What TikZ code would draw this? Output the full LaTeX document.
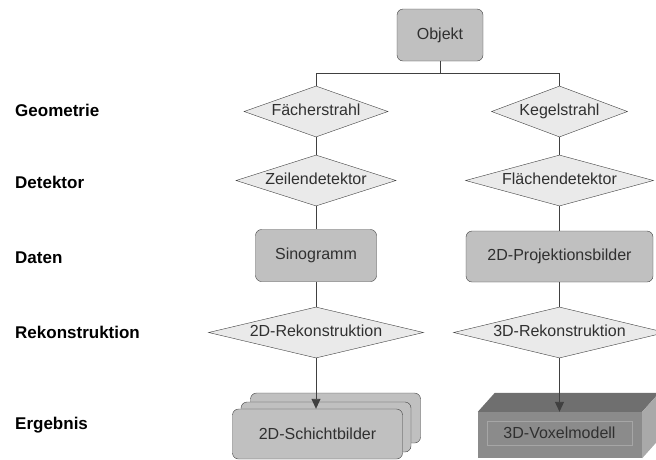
\documentclass[tikz,border=0pt]{standalone}
\usepackage{fontspec}
\setmainfont{Liberation Sans}
\usepackage{xcolor}
\usepackage{tikz}
\usetikzlibrary{shapes.geometric}
\usetikzlibrary{arrows.meta}
\usetikzlibrary{positioning}
\definecolor{linegray}{HTML}{404040}
\definecolor{boxfill}{HTML}{C0C0C0}
\definecolor{rhombfill}{HTML}{EAEAEA}
\definecolor{voxfront}{HTML}{8B8B8B}
\definecolor{voxtop}{HTML}{6F6F6F}
\definecolor{voxside}{HTML}{A9A9A9}
\definecolor{voxrim}{HTML}{A6A6A6}
\definecolor{txtgray}{HTML}{303030}
\tikzset{box/.style={draw=linegray, fill=boxfill, rounded corners=6pt, inner sep=0pt, minimum height=52pt, text=txtgray, font=\fontsize{16}{18}\selectfont}}
\tikzset{card/.style={box, minimum width=170pt, minimum height=50pt}}
\tikzset{rhombus/.style={diamond, draw=linegray, fill=rhombfill, aspect=4, inner sep=0pt, text height=10pt, text depth=2pt, minimum height=51pt, text=txtgray, font=\fontsize{16}{18}\selectfont}}
\tikzset{level/.style={anchor=west, inner sep=0pt, font=\fontsize{17}{19}\selectfont\bfseries}}
\tikzset{wire/.style={draw=linegray, line width=0.9pt}}
\tikzset{voxbox/.style={fill=voxfront, inner sep=0pt, minimum width=164pt, minimum height=46pt}}
\tikzset{voxinner/.style={draw=voxrim, line width=0.9pt, inner sep=0pt, minimum width=145pt, minimum height=24pt, text=txtgray, font=\fontsize{16}{18}\selectfont}}

\begin{document}
\begin{tikzpicture}[x=1pt,y=-1pt]
\useasboundingbox (0,0) rectangle (656,459);
{
% Ebenen
\node[level] (geo) at (15,110) {Geometrie};
\node[level] (det) at (15,182) {Detektor};
\node[level] (dat) at (15,258) {Daten};
\node[level] (rek) at (15,332) {Rekonstruktion};
\node[level] (erg) at (15,425) {Ergebnis};

\node[box, minimum width=86pt] (objekt) at (440,35) {Objekt};
\node[rhombus, minimum width=144pt] (faecher) at (316,111.5) {Fächerstrahl};
\node[rhombus, minimum width=136pt] (kegel) at (559.5,111.5) {Kegelstrahl};
\node[rhombus, minimum width=160pt] (zeile) at (316,180.5) {Zeilendetektor};
\node[rhombus, minimum width=188pt] (flaeche) at (559.5,180.5) {Flächendetektor};
\node[box, minimum width=121pt] (sino) at (316,255.5) {Sinogramm};
\node[box, minimum width=187pt, minimum height=51pt] (proj) at (559.5,256.5) {2D-Projektionsbilder};
\node[rhombus, minimum width=215pt] (rek2d) at (316,332.5) {2D-Rekonstruktion};
\node[rhombus, minimum width=212pt] (rek3d) at (559.5,332.5) {3D-Rekonstruktion};

% Schichtbilder
\node[card] (schicht3) at (335.5,418) {};
\node[card] (schicht2) at (326,427) {};
\node[card] (schicht) at (317.5,434) {2D-Schichtbilder};

% Voxelmodell
\node[voxbox] (voxel) at (560,435) {};
\fill[voxtop] (voxel.north west) -- ++(17,-19) -- ([shift={(17,-19)}]voxel.north east) -- (voxel.north east) -- cycle;
\fill[voxside] (voxel.north east) -- ++(17,-19) -- ([shift={(17,-19)}]voxel.south east) -- (voxel.south east) -- cycle;
\node[voxinner] (voxtext) at (559.5,433) {3D-Voxelmodell};

\draw[wire] (objekt.south) -- ++(0,12) -| (faecher.north);
\draw[wire] (objekt.south) -- ++(0,12) -| (kegel.north);
\draw[wire] (faecher.south) -- (zeile.north);
\draw[wire] (kegel.south) -- (flaeche.north);
\draw[wire] (zeile.south) -- (sino.north);
\draw[wire] (flaeche.south) -- (proj.north);
\draw[wire] (sino.south) -- (rek2d.north);
\draw[wire] (proj.south) -- (rek3d.north);
\draw[wire, -{Triangle[width=9pt,length=10pt]}] (rek2d.south) -- (rek2d.south |- schicht.north);
\draw[wire, -{Triangle[width=9pt,length=10pt]}] (rek3d.south) -- (rek3d.south |- voxel.north);
}
\end{tikzpicture}
\end{document}
